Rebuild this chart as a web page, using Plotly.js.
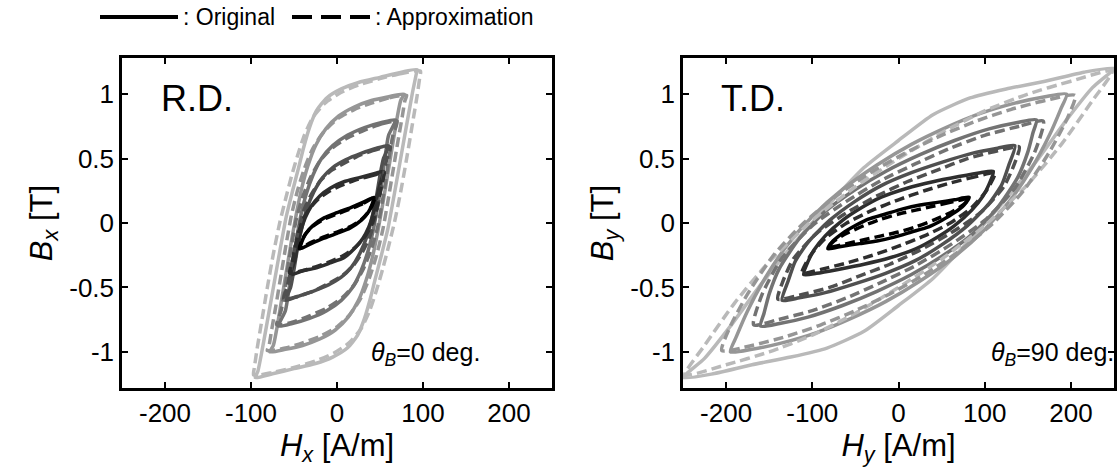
<!DOCTYPE html>
<html>
<head>
<meta charset="utf-8">
<script src="https://cdn.plot.ly/plotly-3.0.1.min.js"></script>
<style>html,body{margin:0;padding:0;background:#fff;}#chart{width:1120px;height:475px;}</style>
</head>
<body>
<div id="chart"></div>
<script>
// ---- data ----
const loopLevels = ['0.2 T', '0.4 T', '0.6 T', '0.8 T', '1.0 T', '1.2 T'];
const loopColors = ['#000000', '#2e2e2e', '#505050', '#737373', '#969696', '#b9b9b9'];

// R.D. (theta_B = 0 deg) original loops: H [A/m], B [T]
const rdOrigH = [
  [43,30,16,0,-15,-28,-36,-40,-43,-30,-16,0,15,28,36,40,43],
  [54,42,25,8,-8,-20,-30,-37,-42,-46,-49,-54,-40,-25,-8,8,20,30,37,42,46,50,54],
  [60,46,28,10,-5,-17,-27,-35,-41,-46,-50,-54,-60,-46,-28,-10,5,17,27,35,41,46,50,54,60],
  [68,52,32,12,-5,-18,-28,-36,-42,-47,-52,-56,-60,-68,-52,-32,-12,5,18,28,36,42,47,52,56,60,68],
  [78,60,40,20,2,-13,-25,-34,-41,-47,-53,-59,-65,-70,-74,-78,-60,-40,-20,-2,13,25,34,41,47,53,59,65,70,74,78],
  [93,75,50,25,5,-12,-24,-32,-39,-45,-52,-59,-66,-74,-82,-88,-92,-95,-75,-50,-25,-5,12,24,32,39,45,52,59,66,74,82,88,92,93]
];
const rdOrigB = [
  [0.2,0.16,0.12,0.08,0.04,-0.02,-0.08,-0.13,-0.2,-0.16,-0.12,-0.08,-0.04,0.02,0.08,0.13,0.2],
  [0.4,0.38,0.35,0.32,0.27,0.21,0.13,0.04,-0.06,-0.18,-0.29,-0.4,-0.37,-0.35,-0.31,-0.27,-0.2,-0.12,-0.03,0.07,0.19,0.3,0.4],
  [0.6,0.58,0.54,0.49,0.43,0.35,0.24,0.11,-0.04,-0.2,-0.36,-0.5,-0.6,-0.57,-0.53,-0.48,-0.42,-0.34,-0.23,-0.1,0.05,0.21,0.37,0.5,0.6],
  [0.8,0.78,0.74,0.68,0.6,0.5,0.37,0.22,0.06,-0.12,-0.32,-0.52,-0.68,-0.8,-0.78,-0.74,-0.68,-0.6,-0.5,-0.37,-0.22,-0.06,0.12,0.32,0.52,0.68,0.8],
  [1.0,0.98,0.95,0.9,0.83,0.73,0.6,0.44,0.27,0.08,-0.14,-0.38,-0.62,-0.82,-0.95,-1.0,-0.98,-0.95,-0.9,-0.83,-0.73,-0.6,-0.44,-0.27,-0.08,0.14,0.38,0.62,0.82,0.95,1.0],
  [1.19,1.17,1.13,1.09,1.04,0.97,0.87,0.74,0.58,0.42,0.24,0.05,-0.2,-0.5,-0.8,-1.02,-1.15,-1.2,-1.17,-1.13,-1.09,-1.04,-0.97,-0.87,-0.74,-0.58,-0.42,-0.24,-0.05,0.2,0.5,0.8,1.02,1.15,1.19]
];
// R.D. approximation loops
const rdApproxH = [
  [44,30,16,0,-15,-29,-37,-41,-44,-30,-16,0,15,29,37,41,44],
  [55,42,25,8,-8,-21,-32,-40,-45,-49,-52,-55,-40,-25,-8,8,21,32,40,45,49,52,55],
  [62,46,28,10,-6,-19,-30,-39,-45,-50,-54,-58,-62,-46,-28,-10,6,19,30,39,45,50,54,58,62],
  [70,52,32,12,-6,-20,-31,-40,-47,-52,-57,-61,-65,-70,-52,-32,-12,6,20,31,40,47,52,57,61,65,70],
  [81,60,40,20,1,-15,-28,-38,-46,-53,-59,-65,-71,-76,-79,-81,-60,-40,-20,-1,15,28,38,46,53,59,65,71,76,79,81],
  [97,75,50,25,4,-14,-28,-38,-46,-53,-60,-67,-74,-81,-88,-93,-96,-97,-75,-50,-25,-4,14,28,38,46,53,60,67,74,81,88,93,96,97]
];
const rdApproxB = [
  [0.2,0.15,0.11,0.07,0.03,-0.03,-0.09,-0.14,-0.2,-0.15,-0.11,-0.07,-0.03,0.03,0.09,0.14,0.2],
  [0.39,0.37,0.34,0.3,0.25,0.19,0.11,0.02,-0.08,-0.2,-0.3,-0.39,-0.37,-0.34,-0.3,-0.25,-0.19,-0.11,-0.02,0.08,0.2,0.3,0.39],
  [0.59,0.57,0.53,0.47,0.41,0.33,0.22,0.09,-0.06,-0.22,-0.37,-0.5,-0.59,-0.57,-0.53,-0.47,-0.41,-0.33,-0.22,-0.09,0.06,0.22,0.37,0.5,0.59],
  [0.79,0.77,0.72,0.66,0.58,0.48,0.35,0.2,0.04,-0.14,-0.34,-0.53,-0.68,-0.79,-0.77,-0.72,-0.66,-0.58,-0.48,-0.35,-0.2,-0.04,0.14,0.34,0.53,0.68,0.79],
  [0.99,0.97,0.93,0.88,0.81,0.71,0.58,0.42,0.25,0.06,-0.16,-0.4,-0.64,-0.83,-0.95,-0.99,-0.97,-0.93,-0.88,-0.81,-0.71,-0.58,-0.42,-0.25,-0.06,0.16,0.4,0.64,0.83,0.95,0.99],
  [1.18,1.16,1.12,1.07,1.01,0.93,0.82,0.68,0.52,0.36,0.18,-0.01,-0.24,-0.5,-0.78,-0.98,-1.12,-1.18,-1.16,-1.12,-1.07,-1.01,-0.93,-0.82,-0.68,-0.52,-0.36,-0.18,0.01,0.24,0.5,0.78,0.98,1.12,1.18]
];

// T.D. (theta_B = 90 deg) original loops
const tdOrigH = [
  [82,65,45,25,5,-15,-35,-50,-65,-76,-82,-65,-45,-25,-5,15,35,50,65,76,82],
  [110,95,70,40,10,-20,-45,-65,-85,-98,-105,-110,-95,-70,-40,-10,20,45,65,85,98,105,110],
  [135,115,85,50,15,-20,-50,-80,-105,-120,-128,-135,-115,-85,-50,-15,20,50,80,105,120,128,135],
  [160,138,105,65,25,-15,-50,-85,-115,-138,-150,-156,-160,-138,-105,-65,-25,15,50,85,115,138,150,156,160],
  [195,170,135,95,55,15,-25,-65,-100,-130,-155,-175,-188,-195,-170,-135,-95,-55,-15,25,65,100,130,155,175,188,195],
  [250,215,170,125,83,40,0,-40,-80,-120,-160,-195,-225,-250,-215,-170,-125,-83,-40,0,40,80,120,160,195,225,250]
];
const tdOrigB = [
  [0.2,0.18,0.16,0.14,0.11,0.07,0.03,-0.02,-0.08,-0.14,-0.2,-0.18,-0.16,-0.14,-0.11,-0.07,-0.03,0.02,0.08,0.14,0.2],
  [0.4,0.39,0.36,0.32,0.27,0.2,0.11,0.02,-0.1,-0.21,-0.3,-0.4,-0.39,-0.36,-0.32,-0.27,-0.2,-0.11,-0.02,0.1,0.21,0.3,0.4],
  [0.6,0.58,0.54,0.47,0.39,0.29,0.17,0.02,-0.15,-0.3,-0.45,-0.6,-0.58,-0.54,-0.47,-0.39,-0.29,-0.17,-0.02,0.15,0.3,0.45,0.6],
  [0.8,0.78,0.73,0.64,0.53,0.4,0.26,0.09,-0.12,-0.35,-0.55,-0.7,-0.8,-0.78,-0.73,-0.64,-0.53,-0.4,-0.26,-0.09,0.12,0.35,0.55,0.7,0.8],
  [1.0,0.98,0.93,0.85,0.74,0.61,0.45,0.26,0.05,-0.18,-0.43,-0.68,-0.88,-1.0,-0.98,-0.93,-0.85,-0.74,-0.61,-0.45,-0.26,-0.05,0.18,0.43,0.68,0.88,1.0],
  [1.2,1.17,1.1,1.04,0.97,0.84,0.64,0.43,0.15,-0.15,-0.48,-0.8,-1.05,-1.2,-1.17,-1.1,-1.04,-0.97,-0.84,-0.64,-0.43,-0.15,0.15,0.48,0.8,1.05,1.2]
];
// T.D. approximation loops
const tdApproxH = [
  [82,60,40,20,0,-20,-40,-60,-75,-82,-60,-40,-20,0,20,40,60,75,82],
  [112,90,60,30,0,-30,-60,-85,-102,-112,-90,-60,-30,0,30,60,85,102,112],
  [140,115,80,45,10,-25,-60,-95,-122,-134,-140,-115,-80,-45,-10,25,60,95,122,134,140],
  [168,140,100,60,20,-20,-60,-100,-135,-158,-168,-140,-100,-60,-20,20,60,100,135,158,168],
  [205,170,130,90,50,10,-30,-70,-110,-145,-175,-195,-205,-170,-130,-90,-50,-10,30,70,110,145,175,195,205],
  [248,200,150,100,50,0,-50,-100,-150,-190,-225,-248,-200,-150,-100,-50,0,50,100,150,190,225,248]
];
const tdApproxB = [
  [0.19,0.16,0.13,0.1,0.07,0.03,-0.02,-0.08,-0.14,-0.19,-0.16,-0.13,-0.1,-0.07,-0.03,0.02,0.08,0.14,0.19],
  [0.39,0.36,0.31,0.25,0.18,0.1,0.0,-0.12,-0.25,-0.39,-0.36,-0.31,-0.25,-0.18,-0.1,0.0,0.12,0.25,0.39],
  [0.59,0.56,0.5,0.41,0.32,0.21,0.08,-0.08,-0.28,-0.45,-0.59,-0.56,-0.5,-0.41,-0.32,-0.21,-0.08,0.08,0.28,0.45,0.59],
  [0.79,0.75,0.68,0.58,0.46,0.33,0.17,-0.02,-0.27,-0.55,-0.79,-0.75,-0.68,-0.58,-0.46,-0.33,-0.17,0.02,0.27,0.55,0.79],
  [0.99,0.95,0.88,0.79,0.68,0.55,0.4,0.22,0.0,-0.25,-0.55,-0.8,-0.99,-0.95,-0.88,-0.79,-0.68,-0.55,-0.4,-0.22,0.0,0.25,0.55,0.8,0.99],
  [1.18,1.1,1.0,0.87,0.7,0.5,0.28,0.02,-0.3,-0.62,-0.95,-1.18,-1.1,-1.0,-0.87,-0.7,-0.5,-0.28,-0.02,0.3,0.62,0.95,1.18]
];

const xTickVals = [-200, -100, 0, 100, 200];
const xTickText = ['-200', '-100', '0', '100', '200'];
const yTickVals = [-1, -0.5, 0, 0.5, 1];
const yTickText = ['-1', '-0.5', '0', '0.5', '1'];

// ---- build ----
const FONT = 'Liberation Sans, Arial, sans-serif';
const LW = 3.5;
const traces = [];
function addLoops(H, B, xa, ya, dash) {
  for (let k = H.length - 1; k >= 0; k--) {
    traces.push({
      type: 'scatter', mode: 'lines', x: H[k], y: B[k], xaxis: xa, yaxis: ya,
      name: loopLevels[k], showlegend: false, hoverinfo: 'skip',
      line: {color: loopColors[k], width: LW, dash: dash, shape: 'spline', smoothing: 0.6}
    });
  }
}
addLoops(rdOrigH, rdOrigB, 'x', 'y', 'solid');
addLoops(rdApproxH, rdApproxB, 'x', 'y', '10px,5px');
addLoops(tdOrigH, tdOrigB, 'x2', 'y2', 'solid');
addLoops(tdApproxH, tdApproxB, 'x2', 'y2', '10px,5px');

function xAxis(domain, anchor, sub) {
  return {
    domain: domain, anchor: anchor, range: [-250, 250],
    tickvals: xTickVals, ticktext: xTickText, ticks: 'inside', ticklen: 6, tickwidth: 1.5, tickcolor: '#000',
    showline: true, linecolor: '#000', linewidth: 2.5, mirror: 'allticks', showgrid: false, zeroline: false,
    tickfont: {family: FONT, size: 26, color: '#000'},
    title: {text: '<i>H</i><sub><i>' + sub + '</i></sub> [A/m]', font: {family: FONT, size: 31, color: '#000'}, standoff: 4}
  };
}
function yAxis(domain, anchor, sub) {
  return {
    domain: domain, anchor: anchor, range: [-1.28, 1.28],
    tickvals: yTickVals, ticktext: yTickText, ticks: 'inside', ticklen: 6, tickwidth: 1.5, tickcolor: '#000',
    showline: true, linecolor: '#000', linewidth: 2.5, mirror: 'allticks', showgrid: false, zeroline: false,
    tickfont: {family: FONT, size: 26, color: '#000'},
    title: {text: '<i>B</i><sub><i>' + sub + '</i></sub> [T]', font: {family: FONT, size: 31, color: '#000'}, standoff: 8}
  };
}

const yTop = 1 - 58 / 475, yBot = 1 - 388 / 475;
const legY = 1 - 17 / 475;
const layout = {
  width: 1120, height: 475,
  margin: {l: 0, r: 0, t: 0, b: 0},
  paper_bgcolor: '#fff', plot_bgcolor: '#fff',
  showlegend: false,
  xaxis: xAxis([122 / 1120, 552 / 1120], 'y', 'x'),
  yaxis: yAxis([yBot, yTop], 'x', 'x'),
  xaxis2: xAxis([683 / 1120, 1114 / 1120], 'y2', 'y'),
  yaxis2: yAxis([yBot, yTop], 'x2', 'y'),
  shapes: [
    {type: 'line', xref: 'paper', yref: 'paper', x0: 100 / 1120, x1: 178 / 1120, y0: legY, y1: legY, line: {color: '#000', width: 4}},
    {type: 'line', xref: 'paper', yref: 'paper', x0: 292 / 1120, x1: 370 / 1120, y0: legY, y1: legY, line: {color: '#000', width: 4, dash: '20px,9px'}}
  ],
  annotations: [
    {xref: 'paper', yref: 'paper', x: 181 / 1120, y: legY, xanchor: 'left', yanchor: 'middle', showarrow: false,
     text: ': Original', font: {family: FONT, size: 23, color: '#000'}},
    {xref: 'paper', yref: 'paper', x: 373 / 1120, y: legY, xanchor: 'left', yanchor: 'middle', showarrow: false,
     text: ': Approximation', font: {family: FONT, size: 23, color: '#000'}},
    {xref: 'x domain', yref: 'y domain', x: 0.085, y: 0.945, xanchor: 'left', yanchor: 'top', showarrow: false,
     text: 'R.D.', font: {family: FONT, size: 36, color: '#000'}},
    {xref: 'x2 domain', yref: 'y2 domain', x: 0.083, y: 0.945, xanchor: 'left', yanchor: 'top', showarrow: false,
     text: 'T.D.', font: {family: FONT, size: 36, color: '#000'}},
    {xref: 'x domain', yref: 'y domain', x: 0.575, y: 0.05, xanchor: 'left', yanchor: 'bottom', showarrow: false,
     text: '<i>θ<sub>B</sub></i>=0 deg.', font: {family: FONT, size: 25, color: '#000'}},
    {xref: 'x2 domain', yref: 'y2 domain', x: 1.004, y: 0.05, xanchor: 'right', yanchor: 'bottom', showarrow: false,
     text: '<i>θ<sub>B</sub></i>=90 deg.', font: {family: FONT, size: 25, color: '#000'}}
  ]
};

Plotly.newPlot('chart', traces, layout, {displayModeBar: false});
</script>
</body>
</html>
